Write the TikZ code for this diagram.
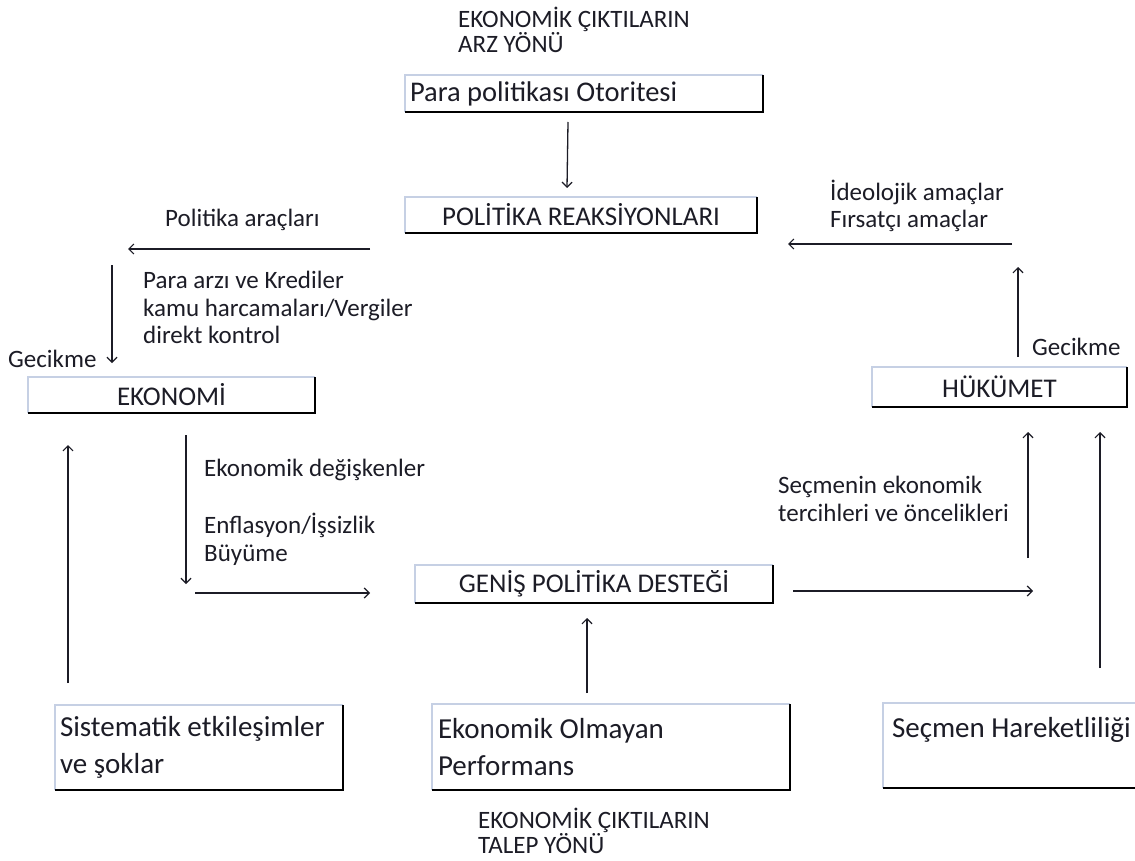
\documentclass[tikz,border=0pt]{standalone}
\usepackage{fontspec}
\setmainfont{Carlito}
\usetikzlibrary{arrows.meta}
\definecolor{ink}{RGB}{28,28,38}
\definecolor{paleedge}{RGB}{198,208,228}
\begin{document}
\begin{tikzpicture}[x=1pt,y=-1pt,
  lbl/.style={anchor=base west,inner sep=0pt,text=ink,font=\fontsize{25}{28}\selectfont},
  panel/.style={anchor=north west,inner ysep=0pt,outer sep=0pt,text=ink},
  leftpanel/.style={panel,align=flush left},
  flow/.style={line width=1.3pt,draw=ink,-{Straight Barb[length=5pt,width=10pt,line width=1.2pt]}},
]
\useasboundingbox (0,0) rectangle (1135,861);
\fill[white] (0,0) rectangle (1135,861);
\begin{scope}
\clip (0,0) rectangle (1135,861);

% boxes
\node[leftpanel,inner xsep=5pt,minimum width=358pt,minimum height=37pt,text width=348pt,
  font=\fontsize{28.5}{34}\selectfont] (para) at (405,75) {Para politikası Otoritesi};
\node[panel,minimum width=352pt,minimum height=36pt,font=\fontsize{27}{32}\selectfont] (reak) at (405,197) {POLİTİKA REAKSİYONLARI};
\node[panel,minimum width=287pt,minimum height=36pt,font=\fontsize{27}{32}\selectfont] (eko) at (28,377) {EKONOMİ};
\node[panel,minimum width=255pt,minimum height=40pt,font=\fontsize{27}{32}\selectfont] (huk) at (872,367) {HÜKÜMET};
\node[panel,minimum width=358pt,minimum height=38pt,font=\fontsize{27}{32}\selectfont] (genis) at (415,565) {GENİŞ POLİTİKA DESTEĞİ};
\node[leftpanel,inner xsep=5pt,minimum width=288pt,minimum height=85pt,text width=278pt,
  font=\fontsize{29}{37}\selectfont] (sis) at (55,705) {Sistematik etkileşimler\\ve şoklar};
\node[leftpanel,inner xsep=6pt,minimum width=358pt,minimum height=86pt,text width=346pt,
  font=\fontsize{29}{37}\selectfont] (olm) at (432,704) {Ekonomik Olmayan\\Performans};
\node[leftpanel,inner xsep=9pt,minimum width=267pt,minimum height=85pt,text width=249pt,
  font=\fontsize{29}{37}\selectfont] (sec) at (883,703) {Seçmen Hareketliliği\\\mbox{}};

% box edges: pale top/left, heavy bottom/right
\foreach \n in {para,reak,eko,huk,genis,sis,olm,sec}{
  \draw[paleedge,line width=1.2pt] (\n.south west) -- (\n.north west) -- (\n.north east);
  \draw[black,line width=2.6pt] (\n.north east) -- (\n.south east) -- (\n.south west);
}

% free arrow ends
\coordinate (aLeftEnd) at (128,249);
\coordinate (aLeftStart) at (370,249);
\coordinate (aDownTop) at (112,265);
\coordinate (aRightStart) at (1012,244);
\coordinate (aEcoDownEnd) at (186,584);
\coordinate (aMidStart) at (195,593);
\coordinate (aRightEnd) at (1033,591);
\coordinate (aVoteStart) at (1028,558);

% connectors
\draw[flow] ([xshift=-16pt,yshift=-10pt]para.south) -- ([xshift=-14pt,yshift=9pt]reak.north);
\draw[flow] (aLeftStart) -- (aLeftEnd);
\draw[flow] (aDownTop) -- (aDownTop |- 0,363);
\draw[flow] (aRightStart) -- (aRightStart -| 788,0);
\draw[flow] (1018,357) -- (1018,267);
\draw[flow] (186,435) -- (aEcoDownEnd);
\draw[flow] (aMidStart) -- (370,593);
\draw[flow] (793,591) -- (aRightEnd);
\draw[flow] (aVoteStart) -- (1028,432);
\draw[flow] (1100,668) -- (1100,432);
\draw[flow] (587,693) -- (587,618);
\draw[flow] (68,683) -- (68,445);

% labels
\node[lbl] (t1) at (458,28) {EKONOMİK ÇIKTILARIN};
\node[lbl] (t2) at (458,53) {ARZ YÖNÜ};
\node[lbl] (l1) at (165,227) {Politika araçları};
\node[lbl] (l2) at (143,288) {Para arzı ve Krediler};
\node[lbl] (l3) at (143,316) {kamu harcamaları/Vergiler};
\node[lbl] (l4) at (143,343) {direkt kontrol};
\node[lbl] (l5) at (8,367) {Gecikme};
\node[lbl] (r1) at (830,201) {İdeolojik amaçlar};
\node[lbl] (r2) at (830,228) {Fırsatçı amaçlar};
\node[lbl] (r3) at (1032,355) {Gecikme};
\node[lbl] (m1) at (204,476) {Ekonomik değişkenler};
\node[lbl] (m2) at (204,533) {Enflasyon/İşsizlik};
\node[lbl] (m3) at (204,561) {Büyüme};
\node[lbl] (v1) at (778,493) {Seçmenin ekonomik};
\node[lbl] (v2) at (778,521) {tercihleri ve öncelikleri};
\node[lbl] (b1) at (478,828) {EKONOMİK ÇIKTILARIN};
\node[lbl] (b2) at (478,853) {TALEP YÖNÜ};
\end{scope}
\end{tikzpicture}
\end{document}
